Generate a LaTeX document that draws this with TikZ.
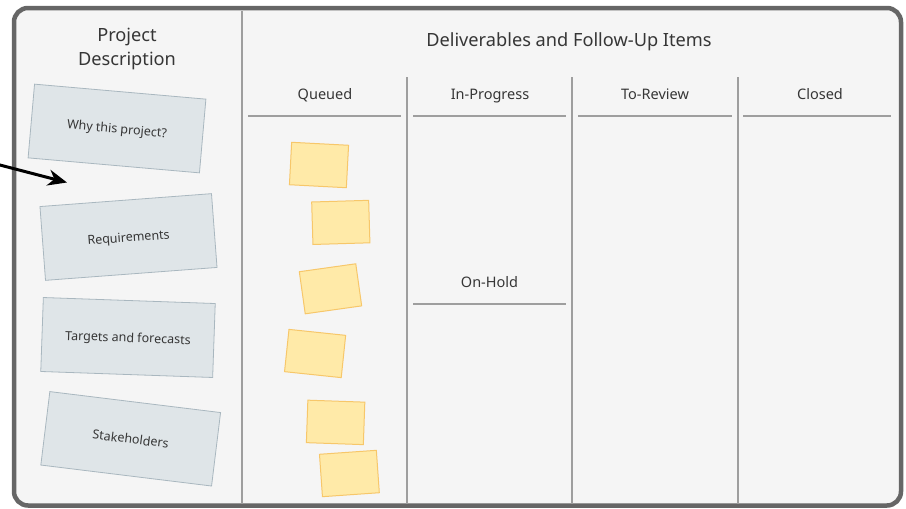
\documentclass[tikz,border=0pt]{standalone}
\usepackage{fontspec}
\setmainfont{Noto Sans}
\usetikzlibrary{arrows.meta}
\definecolor{framec}{HTML}{666666}
\definecolor{bgc}{HTML}{F5F5F5}
\definecolor{divc}{HTML}{9E9E9E}
\definecolor{txtc}{HTML}{363636}
\definecolor{cardfill}{HTML}{DFE5E8}
\definecolor{carddraw}{HTML}{A9B7BF}
\definecolor{notefill}{HTML}{FFEAA8}
\definecolor{notedraw}{HTML}{F7C76A}
\tikzset{
  board/.style={draw=framec, fill=bgc, line width=4.5pt, rounded corners=14pt,
    minimum width=887pt, minimum height=497.5pt, inner sep=0pt},
  divline/.style={draw=divc, line width=2pt},
  headtxt/.style={text=txtc, font=\fontsize{14.5}{17}\selectfont, inner sep=0pt, anchor=base},
  bigtxt/.style={text=txtc, font=\fontsize{18.2}{23.5}\selectfont, inner sep=0pt, align=center, anchor=base},
  card/.style={draw=carddraw, fill=cardfill, line width=0.8pt,
    minimum width=172pt, minimum height=74pt, inner sep=0pt,
    text height=9.5pt, text depth=0pt,
    text=txtc, font=\fontsize{12.5}{14}\selectfont},
  note/.style={draw=notedraw, fill=notefill, line width=1pt,
    minimum width=57pt, minimum height=42.5pt, inner sep=0pt},
  pointer/.style={-{Stealth[length=19pt,width=16pt,inset=6pt]}, line width=3pt, black}
}
\begin{document}
\begin{tikzpicture}[x=1pt,y=-1pt]
\useasboundingbox (0,0) rectangle (906,509);
\node[board] (board) at (457.5,256.75) {};
% main divider
\coordinate (mdT) at (242,11);
\coordinate (mdB) at (242,503.5);
\draw[divline] (mdT) -- (mdB);
% column dividers
\coordinate (c1T) at (407,77); \coordinate (c1B) at (407,503.5);
\coordinate (c2T) at (572,77); \coordinate (c2B) at (572,503.5);
\coordinate (c3T) at (738,77); \coordinate (c3B) at (738,503.5);
\draw[divline] (c1T) -- (c1B);
\draw[divline] (c2T) -- (c2B);
\draw[divline] (c3T) -- (c3B);
% header underlines
\coordinate (u1a) at (248,116); \coordinate (u1b) at (401,116);
\coordinate (u2a) at (413,116); \coordinate (u2b) at (566,116);
\coordinate (u3a) at (578,116); \coordinate (u3b) at (732,116);
\coordinate (u4a) at (743,116); \coordinate (u4b) at (891,116);
\draw[divline] (u1a) -- (u1b);
\draw[divline] (u2a) -- (u2b);
\draw[divline] (u3a) -- (u3b);
\draw[divline] (u4a) -- (u4b);
\coordinate (oha) at (413,304); \coordinate (ohb) at (566,304);
\draw[divline] (oha) -- (ohb);
% titles
\node[bigtxt] (pd1) at (127,41.5) {Project};
\node[bigtxt] (pd2) at (127,65) {Description};
\node[bigtxt] (dfu) at (569,46.7) {Deliverables and Follow-Up Items};
\node[headtxt] (hq) at (325,99.5) {Queued};
\node[headtxt] (hip) at (490,99.5) {In-Progress};
\node[headtxt] (htr) at (655,99.5) {To-Review};
\node[headtxt] (hcl) at (820,99.5) {Closed};
\node[headtxt] (hoh) at (489.5,287) {On-Hold};
% cards
\node[card, rotate=-5] (why) at (117,128.5) {Why this project?};
\node[card, rotate=4.3] (req) at (128.5,237) {Requirements};
\node[card, rotate=-2] (tgt) at (128,337.5) {Targets and forecasts};
\node[card, rotate=-7] (stk) at (130.7,438.8) {Stakeholders};
% sticky notes
\node[note, rotate=-3] (n1) at (319,165) {};
\node[note, rotate=1.7] (n2) at (340.8,222.4) {};
\node[note, rotate=8] (n3) at (330.5,288.8) {};
\node[note, rotate=-6] (n4) at (315.1,353.5) {};
\node[note, rotate=-2] (n5) at (335.6,422.4) {};
\node[note, rotate=4] (n6) at (349.4,473.5) {};
% arrow
\coordinate (arrS) at (-4,164);
\coordinate (arrE) at (67,182.5);
\draw[pointer] (arrS) -- (arrE);
\end{tikzpicture}
\end{document}
